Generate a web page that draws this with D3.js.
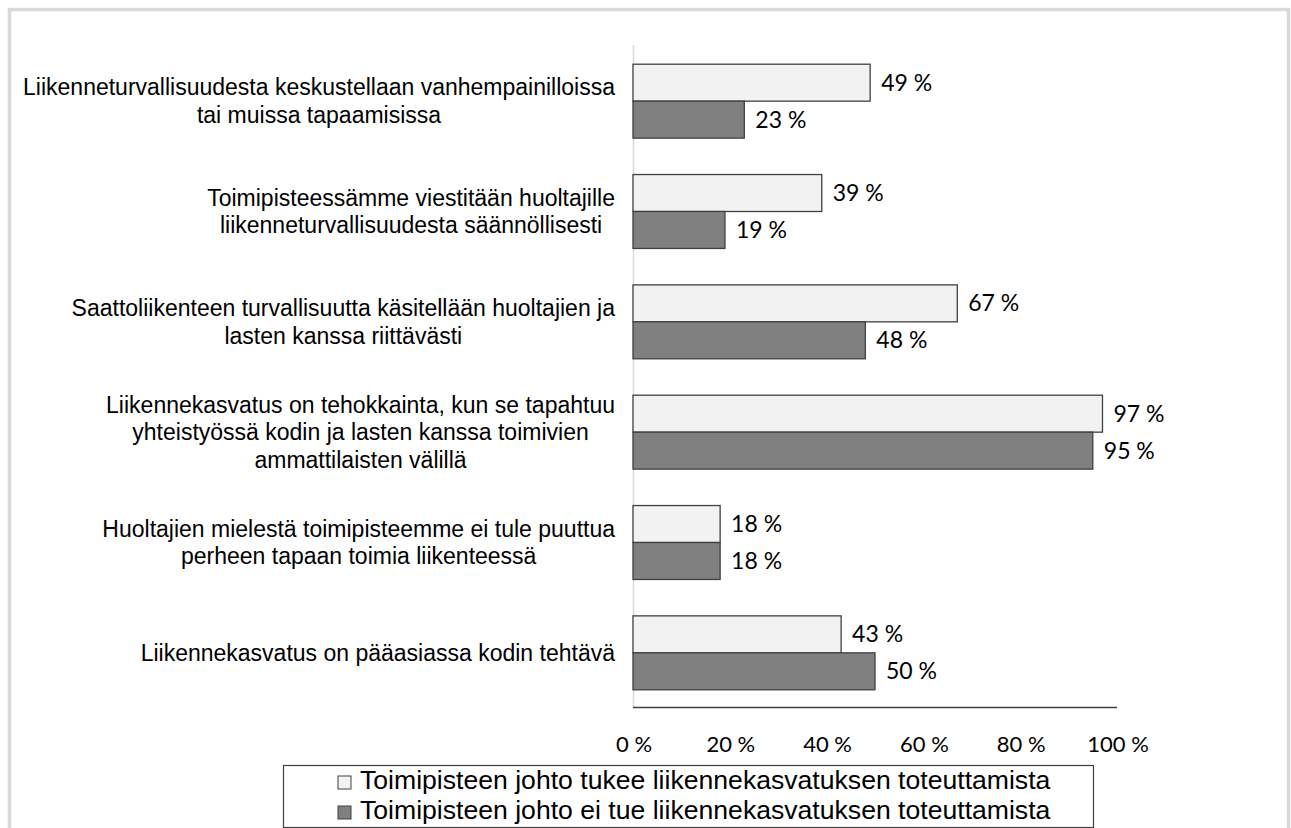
<!DOCTYPE html>
<html>
<head>
<meta charset="utf-8">
<script src="https://cdn.jsdelivr.net/npm/d3@7"></script>
<style>
  body { margin: 0; background: #fff; }
  svg { display: block; }
</style>
</head>
<body>
<div id="chart"></div>
<script>
// Données
const categories = [
  ["Liikenneturvallisuudesta keskustellaan vanhempainilloissa", "tai muissa tapaamisissa"],
  ["Toimipisteessämme viestitään huoltajille", "liikenneturvallisuudesta säännöllisesti"],
  ["Saattoliikenteen turvallisuutta käsitellään huoltajien ja", "lasten kanssa riittävästi"],
  ["Liikennekasvatus on tehokkainta, kun se tapahtuu", "yhteistyössä kodin ja lasten kanssa toimivien", "ammattilaisten välillä"],
  ["Huoltajien mielestä toimipisteemme ei tule puuttua", "perheen tapaan toimia liikenteessä"],
  ["Liikennekasvatus on pääasiassa kodin tehtävä"]
];
const seriesNames = [
  "Toimipisteen johto tukee liikennekasvatuksen toteuttamista",
  "Toimipisteen johto ei tue liikennekasvatuksen toteuttamista"
];
const supports = [49, 39, 67, 97, 18, 43];
const notSupports = [23, 19, 48, 95, 18, 50];
const ticks = [0, 20, 40, 60, 80, 100];

const width = 1291;
const height = 828;
const colors = ["#f2f2f2", "#808080"];

const svg = d3
  .select("#chart")
  .append("svg")
  .attr("width", width)
  .attr("height", height);

// Cadre gris
svg
  .append("rect")
  .attr("x", 9.5)
  .attr("y", 9.5)
  .attr("width", 1279)
  .attr("height", 840)
  .style("fill", "none")
  .style("stroke", "#d9d9d9")
  .style("stroke-width", 3.5);

const x = d3.scaleLinear().domain([0, 100]).range([633, 1117]);
const y = d3
  .scaleBand()
  .domain(d3.range(categories.length))
  .range([46, 708])
  .paddingInner(0.33)
  .paddingOuter(0.165);
const sub = d3.scaleBand().domain([0, 1]).range([0, y.bandwidth()]);

// Axe vertical (gris clair)
svg
  .append("line")
  .attr("x1", x(0) + 0.5)
  .attr("x2", x(0) + 0.5)
  .attr("y1", 45)
  .attr("y2", 707)
  .style("stroke", "#d9d9d9")
  .style("stroke-width", 1.5);

const data = categories.map((c, i) => ({ i, values: [supports[i], notSupports[i]] }));

const groups = svg
  .selectAll("g.cat")
  .data(data)
  .enter()
  .append("g")
  .attr("class", "cat")
  .attr("transform", (d) => `translate(0,${y(d.i)})`);

groups
  .selectAll("rect")
  .data((d) => d.values.map((v, s) => ({ v, s })))
  .enter()
  .append("rect")
  .attr("x", x(0))
  .attr("y", (d) => sub(d.s))
  .attr("width", (d) => x(d.v) - x(0))
  .attr("height", sub.bandwidth())
  .style("fill", (d) => colors[d.s])
  .style("stroke", "#404040")
  .style("stroke-width", 1.3);

groups
  .selectAll("text.val")
  .data((d) => d.values.map((v, s) => ({ v, s })))
  .enter()
  .append("text")
  .attr("class", "val")
  .attr("x", (d) => x(d.v) + 11)
  .attr("y", (d) => sub(d.s) + sub.bandwidth() / 2)
  .attr("dy", "0.35em")
  .style("font-family", "Lato, 'Open Sans', sans-serif")
  .style("font-size", "23px")
  .style("fill", "#000")
  .text((d) => d.v + " %");

// Libellés des catégories (bloc aligné à droite, lignes centrées)
const lineH = 27.5;
groups.each(function (d) {
  const g = d3.select(this);
  const lines = categories[d.i];
  const cy = y.bandwidth() / 2;
  const t = g
    .append("text")
    .style("font-family", "'Liberation Sans', Arial, sans-serif")
    .style("font-size", "23px")
    .style("fill", "#000")
    .attr("text-anchor", "middle");
  lines.forEach((l, k) => {
    t.append("tspan")
      .attr("y", cy + (k - (lines.length - 1) / 2) * lineH)
      .attr("dy", "0.35em")
      .text(l);
  });
  let maxW = 0;
  t.selectAll("tspan").each(function () {
    maxW = Math.max(maxW, this.getComputedTextLength());
  });
  t.selectAll("tspan").attr("x", 615 - maxW / 2);
});

// Axe horizontal
svg
  .append("line")
  .attr("x1", x(0))
  .attr("x2", x(100))
  .attr("y1", 707.5)
  .attr("y2", 707.5)
  .style("stroke", "#404040")
  .style("stroke-width", 1.3);

svg
  .selectAll("text.tick")
  .data(ticks)
  .enter()
  .append("text")
  .attr("class", "tick")
  .attr("x", (d) => x(d) + 1)
  .attr("y", 752)
  .attr("text-anchor", "middle")
  .style("font-family", "Lato, 'Open Sans', sans-serif")
  .style("font-size", "22px")
  .style("fill", "#000")
  .text((d) => d + " %");

// Légende
svg
  .append("rect")
  .attr("x", 283.5)
  .attr("y", 765.5)
  .attr("width", 810)
  .attr("height", 62)
  .style("fill", "#fff")
  .style("stroke", "#404040")
  .style("stroke-width", 1.2);

const legend = svg
  .selectAll("g.leg")
  .data(seriesNames)
  .enter()
  .append("g")
  .attr("class", "leg")
  .attr("transform", (d, i) => `translate(338,${776 + i * 30})`);

legend
  .append("rect")
  .attr("width", 13)
  .attr("height", 13)
  .style("fill", (d, i) => colors[i])
  .style("stroke", "#404040")
  .style("stroke-width", 1);

legend
  .append("text")
  .attr("x", 22)
  .attr("y", 13)
  .style("font-family", "'Liberation Sans', Arial, sans-serif")
  .style("font-size", "26.6px")
  .style("fill", "#000")
  .text((d) => d);
</script>
</body>
</html>
